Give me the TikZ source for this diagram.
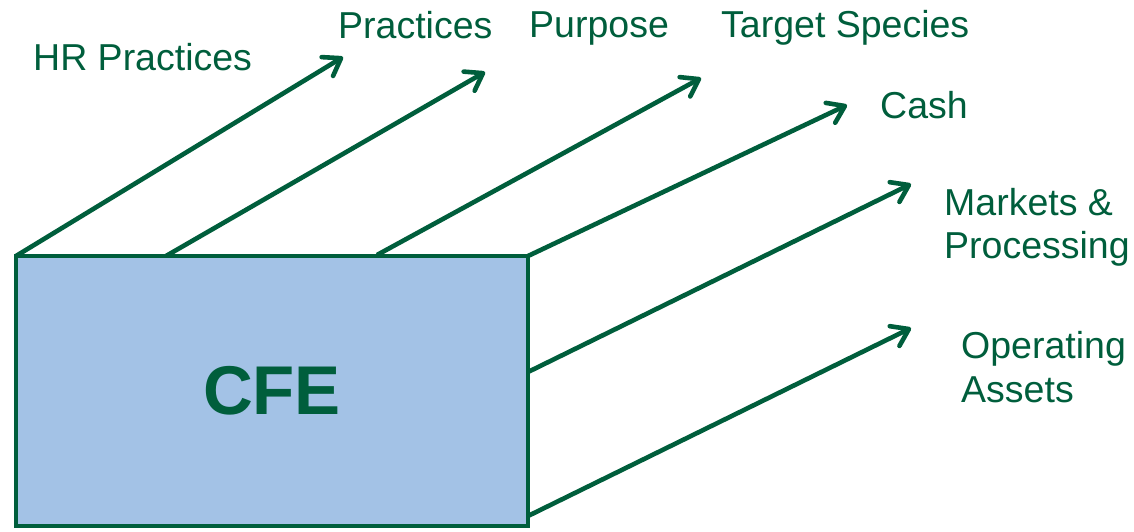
\documentclass[tikz,border=0pt]{standalone}
\usepackage{fontspec}
\setmainfont{Liberation Sans}
\usetikzlibrary{arrows.meta}
\definecolor{cfegreen}{RGB}{0,94,60}
\definecolor{cfeblue}{RGB}{163,194,230}

\begin{document}
\begin{tikzpicture}
	[x=1pt,y=-1pt,every node/.style={text=cfegreen,font=\fontsize{37.5}{43}\selectfont},
	lbl/.style={anchor=base west,inner sep=0pt,align=left},
	edge/.style={-{Straight Barb[length=16pt,width=22pt,line cap=round,line join=round]},draw=cfegreen,line width=4.6pt}]
	\useasboundingbox (0,0) rectangle (1134,532);
	\node (cfe) at (272,391) [draw=cfegreen,fill=cfeblue,line width=4.6pt,minimum width=512pt,minimum height=270pt,inner sep=0pt,outer sep=0pt,font=\fontsize{69}{80}\selectfont\bfseries] {CFE};
	
	\node[lbl] (hr) at (33,71) {HR Practices};
	\node[lbl] (prac) at (338,39) {Practices};
	\node[lbl] (purp) at (529,38) {Purpose};
	\node[lbl] (spec) at (721,38) {Target Species};
	\node[lbl] (cash) at (880,118) {Cash};
	\node[lbl] (mark) at (944,258) {Markets \&\\Processing};
	\node[lbl,font=\fontsize{37.5}{44}\selectfont] (oper) at (961,402) {Operating\\Assets};
	
	\coordinate (t1) at (343,57);
	\coordinate (t2) at (485,72);
	\coordinate (t3) at (701,78);
	\coordinate (t4) at (847,105);
	\coordinate (t5) at (911,184);
	\coordinate (t6) at (911,328);
	
	\draw[edge] (cfe.north west) -- (t1);
	\draw[edge] ([xshift=150pt]cfe.north west) -- (t2);
	\draw[edge] ([xshift=361pt,yshift=1pt]cfe.north west) -- (t3);
	\draw[edge] (cfe.north east) -- (t4);
	\draw[edge] ([yshift=-116pt]cfe.north east) -- (t5);
	\draw[edge] ([yshift=10pt]cfe.south east) -- (t6);
\end{tikzpicture}
\end{document}
